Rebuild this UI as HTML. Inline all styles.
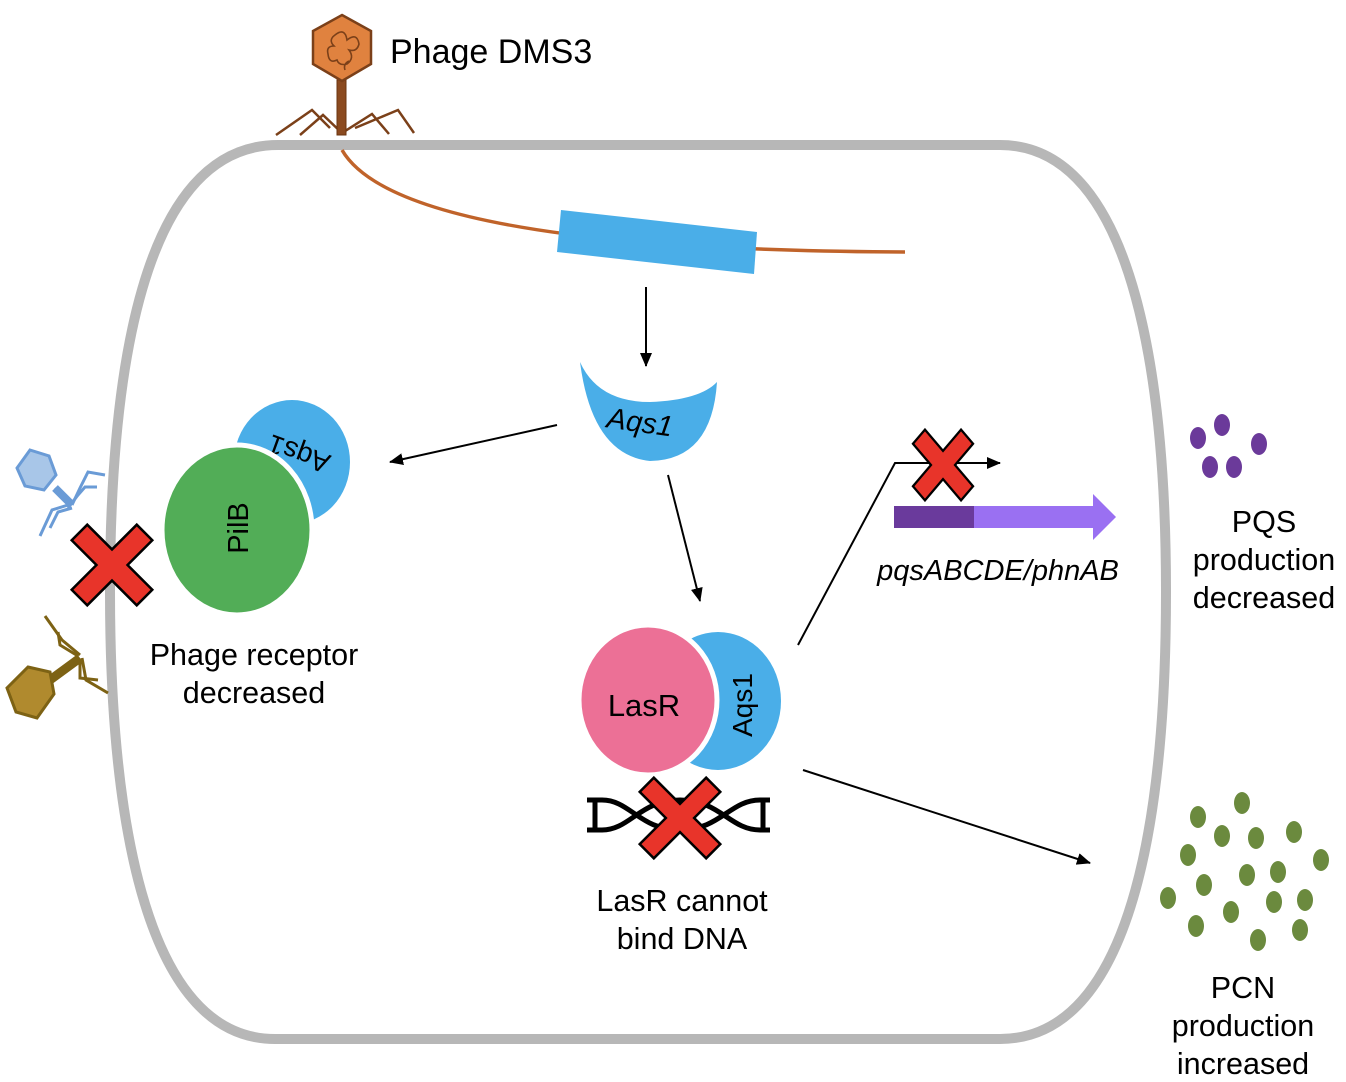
<!DOCTYPE html>
<html><head><meta charset="utf-8"><style>
html,body{margin:0;padding:0;background:#fff;}
svg{display:block;font-family:"Liberation Sans",sans-serif;}
</style></head><body>
<svg width="1346" height="1082" viewBox="0 0 1346 1082">
<defs>
<marker id="ah" markerWidth="14" markerHeight="12" refX="13" refY="6" orient="auto" markerUnits="userSpaceOnUse"><path d="M0,0 L14,6 L0,12 Z" fill="#000"/></marker>
</defs>
<path d="M278,145 L1000,145 C1140,145 1166,400 1166,592 C1166,790 1140,1039 1000,1039 L275,1039 C140,1039 110,800 110,592 C110,380 140,145 278,145 Z" fill="none" stroke="#b7b7b7" stroke-width="10"/>
<g>
<path d="M342,150 Q400,250 905,252" fill="none" stroke="#c0632a" stroke-width="3.5"/>
<g stroke="#7b4019" stroke-width="2.5" fill="none">
<path d="M276,135 L312,110 L330,128"/><path d="M300,135 L323,115 L342,133"/>
<path d="M389,134 L372,114 L342,133"/><path d="M414,133 L398,110 L355,128"/>
</g>
<rect x="337" y="80" width="9" height="55" fill="#8b4a1f" stroke="#6b3510" stroke-width="1"/>
<polygon points="342,15 371,31 371,64 342,81 313,64 313,31" fill="#e0823f" stroke="#7b4019" stroke-width="2.5"/>
<path d="M335,35 q10,-8 12,5 q10,-8 12,4 q-2,8 -10,6 q6,8 -2,14 q-8,2 -10,-4 q-8,4 -9,-6 q-2,-8 6,-8 q-6,-6 1,-11 M345,70 q-2,-6 4,-9" fill="none" stroke="#7b4019" stroke-width="1.6"/>
</g>
<text x="390" y="63" font-size="34">Phage DMS3</text>
<polygon points="561,210 757,232 754,274 557,252" fill="#4aaee8"/>
<g stroke="#000" stroke-width="2" marker-end="url(#ah)" fill="none">
<line x1="646" y1="287" x2="646" y2="366"/>
<line x1="557" y1="425" x2="390" y2="462"/>
<line x1="668" y1="475" x2="700" y2="601"/>
<line x1="803" y1="770" x2="1090" y2="863"/>
<polyline points="798,645 895,463 1000,463"/>
</g>
<path d="M580,362 Q598,402 650,402 Q700,400 717,382 Q712,460 650,461 Q592,455 580,362 Z" fill="#4aaee8"/>
<text x="640" y="432" font-size="29" font-style="italic" transform="rotate(8 640 422)" text-anchor="middle">Aqs1</text>
<ellipse cx="292" cy="462" rx="58" ry="62" fill="#4aaee8"/>
<text x="302" y="445" font-size="28" text-anchor="middle" transform="rotate(200 302 445)">Aqs1</text>
<ellipse cx="237" cy="530" rx="75" ry="85" fill="#52ad57" stroke="#fff" stroke-width="5"/>
<text x="238" y="538" font-size="29" text-anchor="middle" transform="rotate(-90 238 528)">PilB</text>
<ellipse cx="718" cy="701" rx="63" ry="69" fill="#4aaee8"/>
<text x="742" y="715" font-size="28" text-anchor="middle" transform="rotate(-90 742 705)">Aqs1</text>
<ellipse cx="648" cy="700" rx="69" ry="75" fill="#ec7096" stroke="#fff" stroke-width="5"/>
<text x="644" y="716" font-size="31" text-anchor="middle">LasR</text>
<g stroke="#000" stroke-width="5" fill="none">
<path d="M587,800 L602,800 M587,830 L602,830 M595,800 L595,830"/>
<path d="M602,800 C630,800 640,830 680,830 C720,830 730,800 760,800"/>
<path d="M602,830 C630,830 640,800 680,800 C720,800 730,830 760,830"/>
<path d="M760,800 L770,800 M760,830 L770,830 M763,800 L763,830"/>
</g>
<g transform="translate(112,565) rotate(45)"><polygon points="-11,-46 11,-46 11,-11 46,-11 46,11 11,11 11,46 -11,46 -11,11 -46,11 -46,-11 -11,-11" fill="#e8342a" stroke="#000" stroke-width="2.5"/></g>
<g transform="translate(943,465) scale(0.85,1) rotate(45)"><polygon points="-10,-40 10,-40 10,-10 40,-10 40,10 10,10 10,40 -10,40 -10,10 -40,10 -40,-10 -10,-10" fill="#e8342a" stroke="#000" stroke-width="2.5"/></g>
<g transform="translate(680,818) rotate(45)"><polygon points="-10,-47 10,-47 10,-10 47,-10 47,10 10,10 10,47 -10,47 -10,10 -47,10 -47,-10 -10,-10" fill="#e8342a" stroke="#000" stroke-width="2.5"/></g>
<g>
<rect x="894" y="506" width="80" height="22" fill="#6a3a9c"/>
<polygon points="974,506 1093,506 1093,494 1116,517 1093,540 1093,528 974,528" fill="#9a70f2"/>
</g>
<text x="998" y="580" font-size="29" font-style="italic" text-anchor="middle">pqsABCDE/phnAB</text>
<g>
<g stroke="#6a9bd6" stroke-width="3" fill="none"><path d="M55,488 L72,505"/><path d="M72,505 L80,488 L88,472 L105,475"/><path d="M68,508 L78,495 L85,487 L97,487"/><path d="M68,505 L52,510 L40,536"/><path d="M72,508 L58,512 L50,528"/></g>
<path d="M55,488 L72,505" stroke="#6a9bd6" stroke-width="8"/>
<polygon points="30,450 49,456 56,475 44,490 25,486 17,468" fill="#a8c6e8" stroke="#6a9bd6" stroke-width="3"/>
</g>
<g>
<g stroke="#7d6214" stroke-width="3" fill="none"><path d="M80,655 L62,640 L45,616"/><path d="M78,656 L60,645 L58,632"/><path d="M80,660 L80,678 L98,680"/><path d="M82,658 L86,680 L108,693"/></g>
<path d="M80,658 L50,680" stroke="#7d6214" stroke-width="9"/>
<polygon points="28,667 50,672 54,694 37,718 16,712 7,688" fill="#b08a2e" stroke="#7d6214" stroke-width="3"/>
</g>
<g fill="#6b3a9a">
<ellipse cx="1198" cy="438" rx="8" ry="11"/><ellipse cx="1222" cy="425" rx="8" ry="11"/><ellipse cx="1259" cy="444" rx="8" ry="11"/><ellipse cx="1210" cy="467" rx="8" ry="11"/><ellipse cx="1234" cy="467" rx="8" ry="11"/>
</g>
<g fill="#6b8a3e">
<ellipse cx="1242" cy="803" rx="8" ry="11"/><ellipse cx="1198" cy="817" rx="8" ry="11"/><ellipse cx="1222" cy="836" rx="8" ry="11"/><ellipse cx="1256" cy="838" rx="8" ry="11"/><ellipse cx="1294" cy="832" rx="8" ry="11"/><ellipse cx="1188" cy="855" rx="8" ry="11"/><ellipse cx="1321" cy="860" rx="8" ry="11"/><ellipse cx="1247" cy="875" rx="8" ry="11"/><ellipse cx="1278" cy="872" rx="8" ry="11"/><ellipse cx="1204" cy="885" rx="8" ry="11"/><ellipse cx="1168" cy="898" rx="8" ry="11"/><ellipse cx="1305" cy="900" rx="8" ry="11"/><ellipse cx="1231" cy="912" rx="8" ry="11"/><ellipse cx="1274" cy="902" rx="8" ry="11"/><ellipse cx="1196" cy="926" rx="8" ry="11"/><ellipse cx="1258" cy="940" rx="8" ry="11"/><ellipse cx="1300" cy="930" rx="8" ry="11"/>
</g>
<g font-size="30.5" text-anchor="middle">
<text x="254" y="665">Phage receptor</text>
<text x="254" y="703">decreased</text>
<text x="682" y="911">LasR cannot</text>
<text x="682" y="949">bind DNA</text>
<text x="1264" y="532">PQS</text>
<text x="1264" y="570">production</text>
<text x="1264" y="608">decreased</text>
<text x="1243" y="998">PCN</text>
<text x="1243" y="1036">production</text>
<text x="1243" y="1074">increased</text>
</g>
</svg>
</body></html>
